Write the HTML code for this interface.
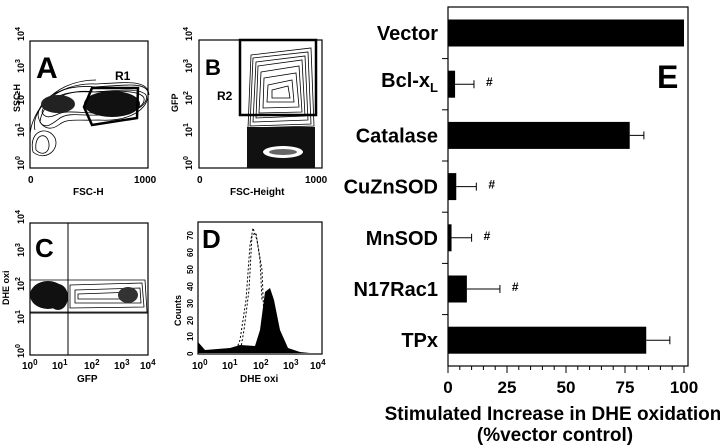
<!DOCTYPE html>
<html><head><meta charset="utf-8"><style>
html,body{margin:0;padding:0;background:#fff}
svg{display:block;font-family:"Liberation Sans",Arial,sans-serif;font-weight:bold}
</style></head><body>
<svg id="fig" width="720" height="448" viewBox="0 0 720 448">
<!-- Panel A -->
<g>
  <rect x="30" y="41" width="118" height="127" fill="none" stroke="#000" stroke-width="1.2"/>
  <text x="36" y="78" font-size="30">A</text>
  <g fill="none" stroke="#000" stroke-width="0.8">
    <path d="M36,150 C34,135 45,132 48,140 C52,150 44,158 36,150Z"/>
    <path d="M33,152 C28,130 48,125 55,138 C60,150 45,162 33,152Z"/>
    <path d="M40,122 C42,100 70,88 95,92 C120,90 140,88 146,95 C150,105 130,118 100,115 C80,116 70,112 60,118 C52,124 45,130 40,122Z"/>
    <path d="M38,115 C40,95 68,84 95,87 C125,85 145,82 148,92 C150,110 128,122 98,120 C78,121 68,118 60,124 C50,132 40,128 38,115Z"/>
    <path d="M42,112 C45,98 66,90 92,92 C120,91 140,90 144,98 C146,108 126,116 98,113 C80,113 66,110 58,114 C50,118 44,118 42,112Z"/>
    <path d="M35,130 C30,112 55,82 96,84 C130,82 148,80 149,95"/>
    <path d="M30,140 C28,118 50,80 96,80"/>
  </g>
  <ellipse cx="58" cy="104" rx="17" ry="9" fill="#222"/>
  <ellipse cx="112" cy="104" rx="28" ry="13" fill="#111"/>
  <polygon points="92,88 138,88 137,118 92,125 84,107" fill="none" stroke="#000" stroke-width="2.5"/>
  <text x="115" y="80" font-size="12">R1</text>
  <text transform="translate(20,112) rotate(-90)" font-size="9">SSC-H</text>
  <g font-size="9">
    <text transform="translate(24,170) rotate(-90)">10<tspan dy="-4" font-size="7">0</tspan></text>
    <text transform="translate(24,137) rotate(-90)">10<tspan dy="-4" font-size="7">1</tspan></text>
    <text transform="translate(24,105) rotate(-90)">10<tspan dy="-4" font-size="7">2</tspan></text>
    <text transform="translate(24,73) rotate(-90)">10<tspan dy="-4" font-size="7">3</tspan></text>
    <text transform="translate(24,41) rotate(-90)">10<tspan dy="-4" font-size="7">4</tspan></text>
  </g>
  <text x="28" y="183" font-size="10">0</text><text x="134" y="183" font-size="10">1000</text>
  <text x="73" y="195" font-size="10">FSC-H</text>
</g>
<!-- Panel B -->
<g>
  <rect x="199" y="40" width="123" height="128" fill="none" stroke="#000" stroke-width="1.2"/>
  <g fill="none" stroke="#000" stroke-width="0.8">
    <path d="M251,55 L311,48 L314,126 L248,128Z"/><path d="M253,58 L308,52 L311,124 L250,126Z"/>
    <path d="M256,62 L305,56 L308,120 L253,122Z"/><path d="M258,66 L302,60 L305,116 L256,118Z"/>
    <path d="M261,72 L299,66 L302,112 L259,113Z"/><path d="M264,78 L296,73 L299,107 L263,108Z"/>
    <path d="M268,85 L292,80 L294,102 L267,102Z"/><path d="M272,90 L288,86 L290,98 L272,98Z"/>
  </g>
  <rect x="247" y="127" width="68" height="41" fill="#111"/>
  <ellipse cx="283" cy="152" rx="20" ry="6" fill="#fff"/>
  <ellipse cx="283" cy="152" rx="14" ry="3" fill="#666"/>
  <rect x="240" y="40" width="76" height="75" fill="none" stroke="#000" stroke-width="2.5"/>
  <text x="205" y="75" font-size="22">B</text>
  <text x="217" y="100" font-size="12">R2</text>
  <text transform="translate(178,112) rotate(-90)" font-size="9">GFP</text>
  <g font-size="9">
    <text transform="translate(192,170) rotate(-90)">10<tspan dy="-4" font-size="7">0</tspan></text>
    <text transform="translate(192,137) rotate(-90)">10<tspan dy="-4" font-size="7">1</tspan></text>
    <text transform="translate(192,105) rotate(-90)">10<tspan dy="-4" font-size="7">2</tspan></text>
    <text transform="translate(192,73) rotate(-90)">10<tspan dy="-4" font-size="7">3</tspan></text>
    <text transform="translate(192,41) rotate(-90)">10<tspan dy="-4" font-size="7">4</tspan></text>
  </g>
  <text x="197" y="183" font-size="10">0</text><text x="305" y="183" font-size="10">1000</text>
  <text x="230" y="195" font-size="10">FSC-Height</text>
</g>
<!-- Panel C -->
<g>
  <rect x="30" y="223" width="118" height="132" fill="none" stroke="#000" stroke-width="1.2"/>
  <g fill="none" stroke="#000" stroke-width="0.8">
    <path d="M30,280 L145,280 L147,312 L30,312Z"/><path d="M70,285 L142,283 L144,307 L70,308Z"/>
    <path d="M75,290 L140,288 L141,303 L75,303Z"/><path d="M78,294 L135,292 L136,299 L78,299Z"/>
  </g>
  <ellipse cx="48" cy="295" rx="18" ry="14" fill="#111"/><ellipse cx="58" cy="297" rx="10" ry="13" fill="#111"/>
  <ellipse cx="128" cy="295" rx="10" ry="8" fill="#333"/>
  <line x1="68" y1="223" x2="68" y2="355" stroke="#000"/><line x1="30" y1="313" x2="148" y2="313" stroke="#000"/>
  <text x="35" y="257" font-size="26">C</text>
  <text transform="translate(9,305) rotate(-90)" font-size="9">DHE oxi</text>
  <g font-size="9">
    <text transform="translate(24,358) rotate(-90)">10<tspan dy="-4" font-size="7">0</tspan></text>
    <text transform="translate(24,324) rotate(-90)">10<tspan dy="-4" font-size="7">1</tspan></text>
    <text transform="translate(24,291) rotate(-90)">10<tspan dy="-4" font-size="7">2</tspan></text>
    <text transform="translate(24,257) rotate(-90)">10<tspan dy="-4" font-size="7">3</tspan></text>
    <text transform="translate(24,224) rotate(-90)">10<tspan dy="-4" font-size="7">4</tspan></text>
  </g>
  <g font-size="10"><text x="22" y="369">10<tspan dy="-4" font-size="8">0</tspan></text><text x="52" y="369">10<tspan dy="-4" font-size="8">1</tspan></text><text x="84" y="369">10<tspan dy="-4" font-size="8">2</tspan></text><text x="114" y="369">10<tspan dy="-4" font-size="8">3</tspan></text><text x="140" y="369">10<tspan dy="-4" font-size="8">4</tspan></text></g>
  <text x="77" y="382" font-size="10">GFP</text>
</g>
<!-- Panel D -->
<g>
  <rect x="198" y="222" width="124" height="132" fill="none" stroke="#000" stroke-width="1.2"/>
  <path d="M198,353 L198,342 L205,350 L230,348 L240,345 L255,346 L260,330 L265,292 L270,288 L274,300 L280,330 L288,348 L300,352 L310,353Z" fill="#000"/>
  <path d="M235,353 L240,340 L246,300 L250,245 L253,228 L257,240 L262,270 L264,320 L266,353" fill="none" stroke="#000" stroke-dasharray="2,2"/>
  <path d="M240,353 L244,330 L249,290 L252,235 L256,233 L260,260 L262,300" fill="none" stroke="#000" stroke-dasharray="2,2"/>
  <text x="202" y="248" font-size="26">D</text>
  <text transform="translate(181,326) rotate(-90)" font-size="9">Counts</text>
  <g font-size="8">
    <text transform="translate(193,356) rotate(-90)">0</text><text transform="translate(193,341) rotate(-90)">10</text>
    <text transform="translate(193,325) rotate(-90)">20</text><text transform="translate(193,308) rotate(-90)">30</text>
    <text transform="translate(193,291) rotate(-90)">40</text><text transform="translate(193,274) rotate(-90)">50</text>
    <text transform="translate(193,257) rotate(-90)">60</text><text transform="translate(193,240) rotate(-90)">70</text>
  </g>
  <g font-size="10"><text x="192" y="369">10<tspan dy="-4" font-size="8">0</tspan></text><text x="222" y="369">10<tspan dy="-4" font-size="8">1</tspan></text><text x="253" y="369">10<tspan dy="-4" font-size="8">2</tspan></text><text x="283" y="369">10<tspan dy="-4" font-size="8">3</tspan></text><text x="310" y="369">10<tspan dy="-4" font-size="8">4</tspan></text></g>
  <text x="240" y="382" font-size="10">DHE oxi</text>
</g>
<!-- Panel E -->
<g id="panelE">
  <text x="657" y="88" font-size="32">E</text>
  <text x="553" y="420" font-size="19" text-anchor="middle">Stimulated Increase in DHE oxidation</text>
  <text x="555" y="441" font-size="19" text-anchor="middle">(%vector control)</text>
</g>
</svg>
<script>
const categories = ["Vector","Bcl-xL","Catalase","CuZnSOD","MnSOD","N17Rac1","TPx"];
const values = [100, 3, 77, 3.5, 1.5, 8, 84];
const errors = [0, 8, 6, 8.5, 8.5, 14, 10];
const significant = [false, true, false, true, true, true, false];
const xTicks = [0, 25, 50, 75, 100];

const NS = "http://www.w3.org/2000/svg";
const g = document.getElementById("panelE");
const X0 = 448, X1 = 684, YT = 7, YB = 366, Y0 = 33, STEP = 51.2, BH = 27;
const xs = v => X0 + (X1 - X0) * v / 100;
const ys = i => Y0 + i * STEP;
function mk(tag, attrs) { const e = document.createElementNS(NS, tag); for (const k in attrs) e.setAttribute(k, attrs[k]); g.appendChild(e); return e; }

const frame = mk("rect", {x: X0, y: YT, width: 240, height: YB - YT, fill: "none", stroke: "#000", "stroke-width": 1.2});



for (let i = 1; i < categories.length; i++) {
  const t = mk("line", {x1: X0 - 6, x2: X0, y1: ys(i) - STEP / 2, y2: ys(i) - STEP / 2, stroke: "#000"});
  
  
}
for (let v = 0; v <= 100; v += 5) {
  const major = v % 25 === 0;
  const t = mk("line", {x1: xs(v), x2: xs(v), y1: YB, y2: YB + (major ? 7 : 4), stroke: "#000"});
  
  
}
xTicks.forEach(v => {
  const t = mk("text", {x: xs(v), y: 393, "font-size": 17, "text-anchor": "middle"});
  t.textContent = v;
  
  
});
categories.forEach((c, i) => {
  const y = ys(i);
  const b = mk("rect", {x: X0, y: y - BH / 2, width: xs(values[i]) - X0, height: BH, fill: "#000"});
  
  
  if (errors[i] > 0) {
    const e1 = xs(values[i] + errors[i]);
    const el = mk("path", {d: `M${xs(values[i])},${y}H${e1}M${e1},${y-4}V${y+4}`, stroke: "#000", fill: "none", "stroke-width": 1});
    
    
    if (significant[i]) {
      const h = mk("text", {x: e1 + 12, y: y + 2, "font-size": 12});
      h.textContent = "#";
      
      
    }
  }
  const lab = mk("text", {x: 438, y: y + 7, "font-size": 20, "text-anchor": "end"});
  if (c === "Bcl-xL") { lab.innerHTML = 'Bcl-x<tspan font-size="13" dy="5">L</tspan>'; lab.setAttribute("y", y + 3); }
  else lab.textContent = c;
  
  
});
</script>
</body></html>
